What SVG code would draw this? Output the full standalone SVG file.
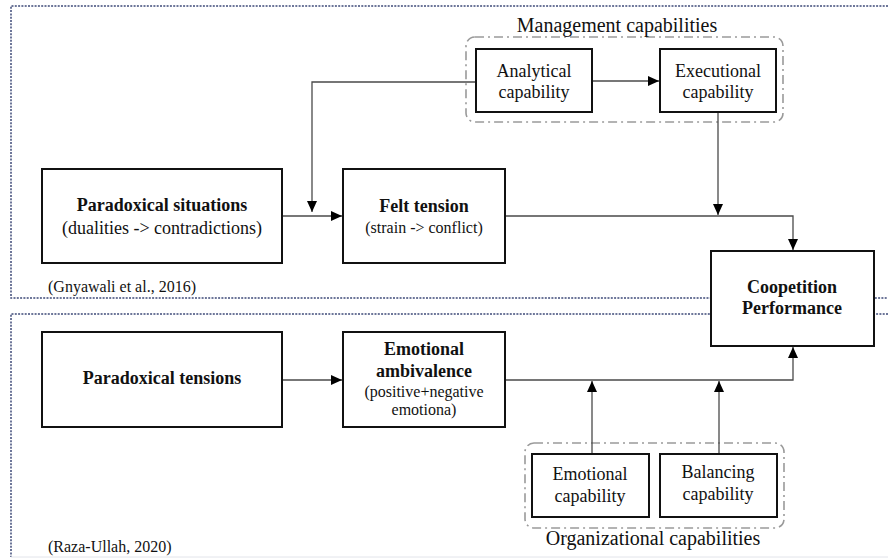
<svg xmlns="http://www.w3.org/2000/svg" width="888" height="558" viewBox="0 0 888 558">
  <style>
    text { fill: #111; font-size: 18px; }
    .frame { fill: none; stroke: #3e4a78; stroke-width: 1.5; stroke-dasharray: 2 1.3; }
    .group { fill: none; stroke: #9a9a9a; stroke-width: 1.6; stroke-dasharray: 9 4 2 4; }
    .box { fill: #fff; stroke: #111; stroke-width: 2; }
    .conn { fill: none; stroke: #4a4a4a; stroke-width: 1.3; }
    .b { font-weight: bold; }
    .sm { font-size: 16px; }
    .title { font-size: 20px; }
  </style>
  <defs>
    <marker id="arrow" viewBox="0 0 11 10" refX="11" refY="5" markerWidth="11" markerHeight="10" markerUnits="userSpaceOnUse" orient="auto">
      <path d="M0,0 L11,5 L0,10 z" fill="#000"/>
    </marker>
  </defs>

  <g font-family="Liberation Serif, DejaVu Serif, serif">
  <!-- outer study frames -->
  <g id="frames">
    <path class="frame" d="M888,6 H11 V298 H888"/>
    <path class="frame" d="M888,314 H11 V557"/>
    <line x1="11" y1="557" x2="888" y2="557" stroke="#e2e4ea" stroke-width="1"/>
    <text class="sm" x="48" y="292">(Gnyawali et al., 2016)</text>
    <text class="sm" x="48" y="552">(Raza-Ullah, 2020)</text>
  </g>

  <!-- capability groupings -->
  <g id="management">
    <rect class="group" x="466" y="37" width="317" height="85" rx="9"/>
    <text class="title" x="617" y="32" text-anchor="middle">Management capabilities</text>
  </g>
  <g id="organizational">
    <rect class="group" x="525" y="443" width="259" height="85" rx="9"/>
    <text class="title" x="653" y="545" text-anchor="middle">Organizational capabilities</text>
  </g>

  <!-- connectors -->
  <g id="connectors">
    <line class="conn" x1="282" y1="216" x2="342" y2="216" marker-end="url(#arrow)"/>
    <polyline class="conn" points="476,82 312,82 312,212" marker-end="url(#arrow)"/>
    <line class="conn" x1="592" y1="81" x2="659" y2="81" marker-end="url(#arrow)"/>
    <line class="conn" x1="718" y1="112" x2="718" y2="215" marker-end="url(#arrow)"/>
    <polyline class="conn" points="505,216 793,216 793,250" marker-end="url(#arrow)"/>
    <line class="conn" x1="282" y1="380" x2="342" y2="380" marker-end="url(#arrow)"/>
    <polyline class="conn" points="505,380 793,380 793,347" marker-end="url(#arrow)"/>
    <line class="conn" x1="592" y1="454" x2="592" y2="381" marker-end="url(#arrow)"/>
    <line class="conn" x1="719" y1="454" x2="719" y2="381" marker-end="url(#arrow)"/>
  </g>

  <g id="paradoxical-situations">
    <rect class="box" x="42" y="169" width="240" height="94"/>
    <text class="b" x="162" y="211" text-anchor="middle">Paradoxical situations</text>
    <text x="162" y="234" text-anchor="middle">(dualities -&gt; contradictions)</text>
  </g>
  <g id="felt-tension">
    <rect class="box" x="343" y="169" width="162" height="94"/>
    <text class="b" x="424" y="212" text-anchor="middle">Felt tension</text>
    <text class="sm" x="424" y="233" text-anchor="middle">(strain -&gt; conflict)</text>
  </g>
  <g id="analytical">
    <rect class="box" x="476" y="49" width="116" height="63"/>
    <text x="534" y="77" text-anchor="middle">Analytical</text>
    <text x="534" y="98" text-anchor="middle">capability</text>
  </g>
  <g id="executional">
    <rect class="box" x="660" y="49" width="116" height="63"/>
    <text x="718" y="77" text-anchor="middle">Executional</text>
    <text x="718" y="98" text-anchor="middle">capability</text>
  </g>
  <g id="coopetition-performance">
    <rect class="box" x="711" y="251" width="163" height="95"/>
    <text class="b" x="792" y="293" text-anchor="middle">Coopetition</text>
    <text class="b" x="792" y="314" text-anchor="middle">Performance</text>
  </g>
  <g id="paradoxical-tensions">
    <rect class="box" x="42" y="332" width="240" height="95"/>
    <text class="b" x="162" y="384" text-anchor="middle">Paradoxical tensions</text>
  </g>
  <g id="emotional-ambivalence">
    <rect class="box" x="343" y="332" width="162" height="95"/>
    <text class="b" x="424" y="355" text-anchor="middle">Emotional</text>
    <text class="b" x="424" y="377" text-anchor="middle">ambivalence</text>
    <text class="sm" x="424" y="397" text-anchor="middle">(positive+negative</text>
    <text class="sm" x="424" y="415" text-anchor="middle">emotiona)</text>
  </g>
  <g id="emotional-capability">
    <rect class="box" x="532" y="454" width="117" height="63"/>
    <text x="590" y="480" text-anchor="middle">Emotional</text>
    <text x="590" y="502" text-anchor="middle">capability</text>
  </g>
  <g id="balancing-capability">
    <rect class="box" x="660" y="454" width="117" height="63"/>
    <text x="718" y="478" text-anchor="middle">Balancing</text>
    <text x="718" y="500" text-anchor="middle">capability</text>
  </g>
  </g>
</svg>
